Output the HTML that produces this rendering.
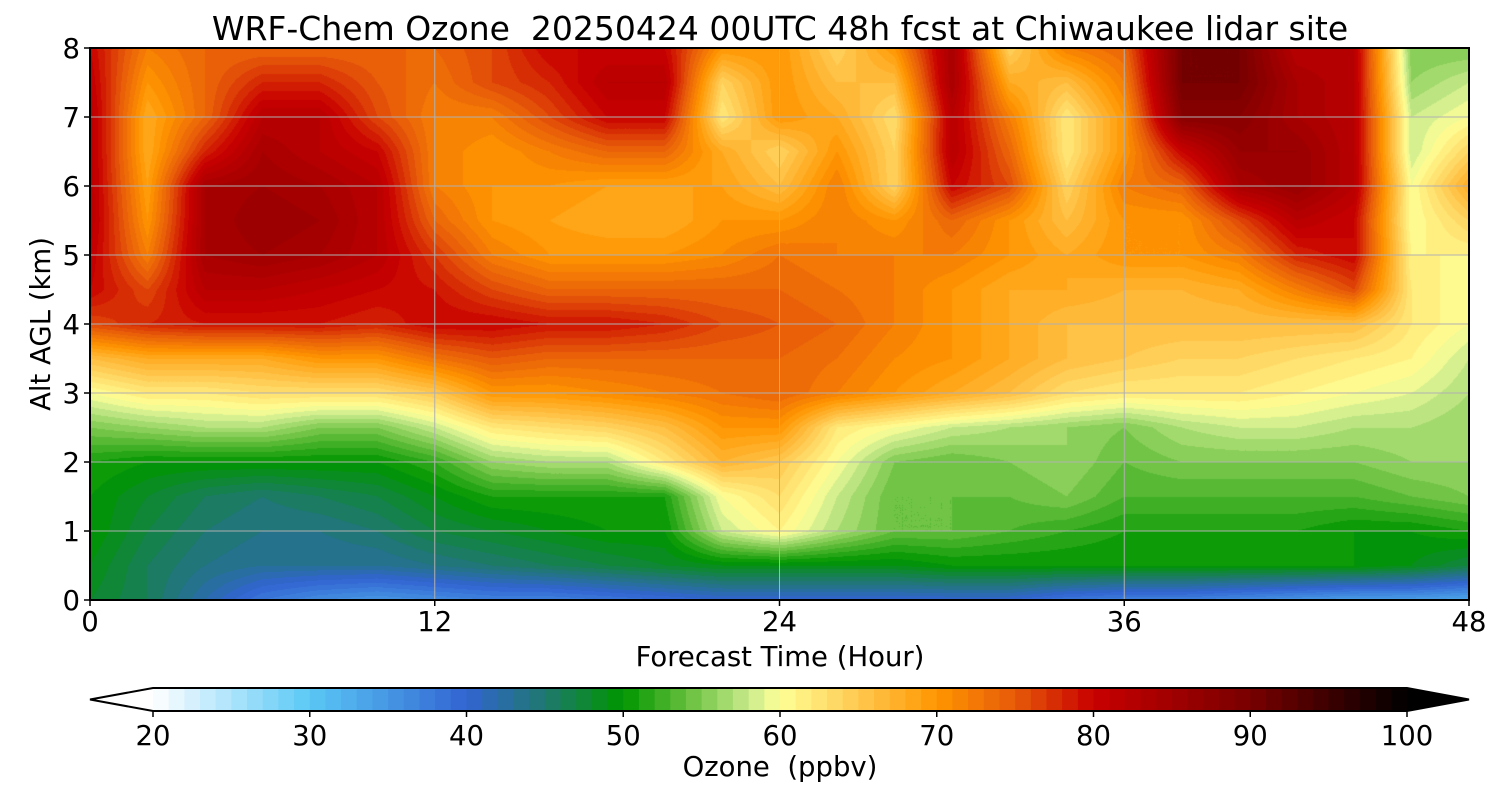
<!DOCTYPE html>
<html><head><meta charset="utf-8">
<style>
body{margin:0;width:1500px;height:800px;background:#fff;overflow:hidden;font-family:"DejaVu Sans","Liberation Sans",sans-serif;}
#plot{position:absolute;left:90px;top:48px;}
svg{position:absolute;left:0;top:0;font-family:"DejaVu Sans","Liberation Sans",sans-serif;}
svg text{white-space:pre;}
</style></head><body>
<canvas id="plot" width="1379" height="552"></canvas>
<svg id="ov" width="1500" height="800"></svg>
<script>
const times=[0,2,4,6,8,10,12,14,16,18,20,22,24,26,28,30,32,34,36,38,40,42,44,46,48];
const alts=[0,0.5,1,1.5,2,2.5,3,3.5,4,4.5,5,5.5,6,6.5,7,7.5,8];
const ozone=[
[48,46,42,38,36,35,36,37,37,38,39,40,40,40,40,40,40,38,37,37,36,35,34,34,33],
[49,46,44,43,43,43,44,45,46,47,48,49,49,49,49,50,50,50,50,50,50,50,50,49,47],
[50,47,45,44,44,45,47,48,49,50,50,58,61,57,54,54,53,52,51,51,51,51,50,50,51],
[50,48,46,45,46,47,49,51,51,51,51,60,63,58,54,54,54,55,53,53,53,53,53,54,55],
[51,50,50,50,50,50,52,56,57,57,62,67,65,60,55,54,55,56,54,55,55,55,55,56,56],
[55,56,57,57,55,55,58,62,63,64,66,70,70,62,60,58,57,56,55,57,58,58,57,57,56],
[60,62,62,63,63,63,65,70,70,71,72,73,74,72,70,68,66,63,62,62,62,61,60,59,57],
[66,68,68,68,70,70,73,75,74,74,74,74,74,73,71,70,68,66,65,64,64,63,62,61,58],
[76,78,79,79,79,78,80,80,79,79,78,76,75,74,72,70,68,66,66,66,66,66,66,62,60],
[80,76,82,82,81,80,79,76,74,74,74,74,74,73,72,70,68,68,67,67,68,72,76,62,60],
[81,72,84,85,84,82,77,72,70,70,70,71,73,72,72,72,70,68,70,70,72,78,80,61,61],
[82,70,84,86,85,82,74,70,69,68,68,70,70,72,70,74,70,66,70,70,76,82,80,60,64],
[82,69,84,85,84,82,72,70,70,69,69,69,66,72,64,80,76,64,72,74,84,86,82,60,68],
[82,68,78,84,82,80,72,70,72,74,74,68,64,70,64,82,74,62,70,80,86,86,82,58,64],
[82,68,74,82,82,76,72,72,76,80,80,62,70,68,63,82,72,62,70,88,88,84,82,58,60],
[81,70,74,78,78,75,73,76,78,82,82,64,70,66,66,84,68,66,72,90,90,84,82,56,58],
[80,72,74,74,74,74,74,76,80,80,80,70,70,64,70,84,64,72,74,90,90,82,82,55,55]];
const xTicks=[0,12,24,36,48];
const yTicks=[0,1,2,3,4,5,6,7,8];
const cbTicks=[20,30,40,50,60,70,80,90,100];
const stops=[[20,[255,255,255]],[30,[90,200,245]],[40,[50,100,210]],[45,[30,120,110]],[50,[0,150,0]],[54,[100,190,60]],[58,[200,235,140]],[60,[255,255,150]],[65,[255,200,80]],[70,[255,150,0]],[75,[230,90,10]],[80,[200,0,0]],[90,[120,0,0]],[100,[0,0,0]]];
function cmap(v){v=Math.max(20,Math.min(100,v));for(let i=0;i<stops.length-1;i++){const[a,ca]=stops[i],[b,cb]=stops[i+1];if(v<=b){const f=(v-a)/(b-a);return ca.map((c,k)=>Math.round(c+(cb[k]-c)*f));}}return stops[stops.length-1][1];}
const L=90,R=1469,T=48,B=600;
const xs=t=>L+(t-0)/48*(R-L), ys=a=>B-a/8*(B-T);
const cv=document.getElementById('plot'),ctx=cv.getContext('2d'),W=cv.width,H=cv.height;
const img=ctx.createImageData(W,H);
for(let py=0;py<H;py++){const a=(H-py-0.5)/H*8;const ai=Math.min(alts.length-2,Math.floor(a/0.5));const fa=(a-alts[ai])/0.5;
for(let px=0;px<W;px++){const t=(px+0.5)/W*48;const ti=Math.min(times.length-2,Math.floor(t/2));const ft=(t-times[ti])/2;
const v=ozone[ai][ti]*(1-ft)*(1-fa)+ozone[ai][ti+1]*ft*(1-fa)+ozone[ai+1][ti]*(1-ft)*fa+ozone[ai+1][ti+1]*ft*fa;
const q=Math.floor(v)+0.5;const c=cmap(q);const o=(py*W+px)*4;img.data[o]=c[0];img.data[o+1]=c[1];img.data[o+2]=c[2];img.data[o+3]=255;}}
ctx.putImageData(img,0,0);
const svg=document.getElementById('ov');const NS='http://www.w3.org/2000/svg';
function el(tag,attrs,txt){const e=document.createElementNS(NS,tag);for(const k in attrs)e.setAttribute(k,attrs[k]);if(txt!==undefined)e.textContent=txt;svg.appendChild(e);return e;}
xTicks.forEach(t=>{const x=xs(t);
const g=el('line',{x1:x,x2:x,y1:T,y2:B,stroke:'#b0b0b0','stroke-width':1});


const tk=el('line',{x1:x,x2:x,y1:B,y2:B+6,stroke:'#000','stroke-width':1.5});


const lb=el('text',{x:x,y:B+31,'font-size':27.5,'text-anchor':'middle'},t);

});
yTicks.forEach(a=>{const y=ys(a);
const g=el('line',{x1:L,x2:R,y1:y,y2:y,stroke:'#b0b0b0','stroke-width':1});


const tk=el('line',{x1:L-6,x2:L,y1:y,y2:y,stroke:'#000','stroke-width':1.5});


const lb=el('text',{x:L-10,y:y+10,'font-size':27.5,'text-anchor':'end'},a);

});
const fr=el('rect',{x:L,y:T,width:R-L,height:B-T,fill:'none',stroke:'#000','stroke-width':2});


const ti=el('text',{x:780,y:40,'font-size':33,'text-anchor':'middle'},'WRF-Chem Ozone  20250424 00UTC 48h fcst at Chiwaukee lidar site');


const xl=el('text',{x:780,y:666,'font-size':27.5,'text-anchor':'middle'},'Forecast Time (Hour)');


const yl=el('text',{x:50,y:324,'font-size':27.5,'text-anchor':'middle',transform:'rotate(-90 50 324)'},'Alt AGL (km)');


const c0=153,c1=1407,cy0=688,cy1=711;const cx=v=>c0+(v-20)/80*(c1-c0);
for(let v=20;v<100;v+=1){const c=cmap(v+0.5);
const r=el('rect',{x:cx(v),y:cy0,width:cx(v+1)-cx(v)+0.5,height:cy1-cy0,fill:`rgb(${c})`});

}
const lt=el('polygon',{points:`${c0},${cy0} 90,${(cy0+cy1)/2} ${c0},${cy1}`,fill:'#fff',stroke:'none'});


const rt=el('polygon',{points:`${c1},${cy0} 1469,${(cy0+cy1)/2} ${c1},${cy1}`,fill:'#000'});


const ol=el('polygon',{points:`${c0},${cy0} ${c1},${cy0} 1469,${(cy0+cy1)/2} ${c1},${cy1} ${c0},${cy1} 90,${(cy0+cy1)/2}`,fill:'none',stroke:'#000','stroke-width':2});


cbTicks.forEach(v=>{const x=cx(v);
const tk=el('line',{x1:x,x2:x,y1:cy1,y2:cy1+6,stroke:'#000','stroke-width':1.5});


const lb=el('text',{x:x,y:cy1+34,'font-size':27.5,'text-anchor':'middle'},v);

});
const cl=el('text',{x:780,y:776,'font-size':27.5,'text-anchor':'middle'},'Ozone  (ppbv)');


</script>
</body></html>
